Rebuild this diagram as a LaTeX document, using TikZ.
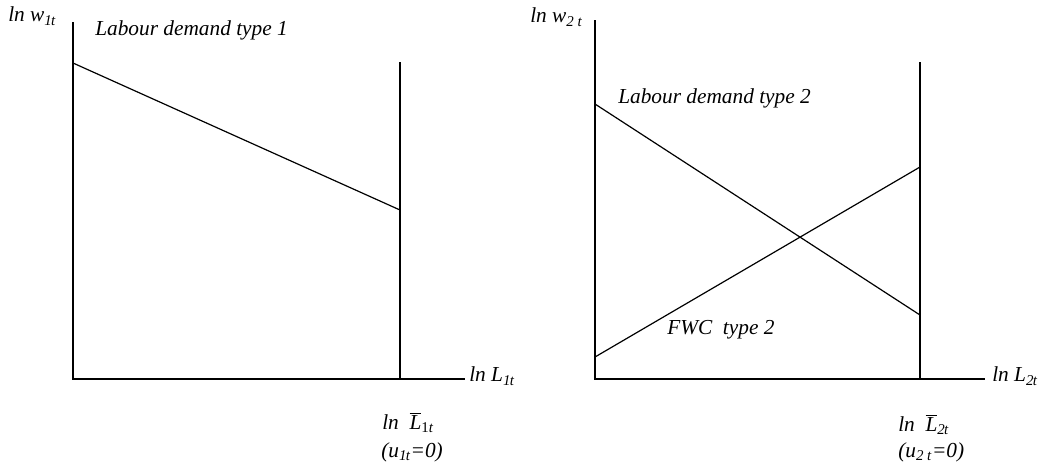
\documentclass[tikz,border=0pt]{standalone}
\usepackage{fontspec}
\setmainfont{Liberation Serif}
\begin{document}
\begin{tikzpicture}[
    x=0.75pt, y=-0.75pt,
    % Eixos e curvas
    eixo/.style={draw, line width=0.9pt},
    curva/.style={draw, line width=0.9pt},
    % Rótulos
    rot/.style={font=\fontsize{16}{19}\selectfont\itshape, inner sep=0pt, anchor=west},
    rotc/.style={font=\fontsize{16}{19}\selectfont\itshape, inner sep=0pt}
]
\useasboundingbox (0,0) rectangle (1050,469);

% ---- PAINEL 1 ----
\coordinate (o1)    at (73, 379);
\coordinate (y1top) at (73, 22);
\coordinate (x1end) at (465, 379);
\coordinate (lb1)   at (400, 379);
\coordinate (lb1t)  at (400, 62);
\coordinate (d1a)   at (73, 63);
\coordinate (d1b)   at (400, 210);

\draw[eixo] (y1top) -- (o1) -- (x1end);
\draw[eixo] (lb1) -- (lb1t);
\draw[curva] (d1a) -- (d1b);

\node[rot] (w1)   at (8, 16)   {ln w\textsubscript{1\kern-0.5pt t}};
\node[rot] (dem1) at (95, 30)  {Labour demand type 1};
\node[rot] (L1)   at (469, 376) {ln L\textsubscript{1\kern-0.5pt t}};
\node[rot] (Lb1)  at (382, 423) {ln\enspace$\overline{\mbox{\itshape L}}$\textsubscript{\upshape 1\itshape t}};
\node[rot] (u1)   at (381, 452) {(u\textsubscript{1\kern-0.5pt t}=0)};

% ---- PAINEL 2 ----
\coordinate (o2)    at (595, 379);
\coordinate (y2top) at (595, 20);
\coordinate (x2end) at (985, 379);
\coordinate (lb2)   at (920, 379);
\coordinate (lb2t)  at (920, 62);
\coordinate (d2a)   at (595, 104);
\coordinate (d2b)   at (920, 315);
\coordinate (f2a)   at (595, 357);
\coordinate (f2b)   at (920, 167);

\draw[eixo] (y2top) -- (o2) -- (x2end);
\draw[eixo] (lb2) -- (lb2t);
\draw[curva] (d2a) -- (d2b);
\draw[curva] (f2a) -- (f2b);

\node[rot] (w2)   at (530, 17)  {ln w\textsubscript{2 t}};
\node[rot] (dem2) at (618, 98)  {Labour demand type 2};
\node[rot] (fwc)  at (667, 330) {FWC\enspace type 2};
\node[rot] (L2)   at (992, 376) {ln L\textsubscript{2\kern-0.5pt t}};
\node[rot] (Lb2)  at (898, 425) {ln\enspace$\overline{\mbox{\itshape L}}$\textsubscript{2\kern-0.5pt t}};
\node[rot] (u2)   at (898, 452) {(u\textsubscript{2 t}=0)};

\end{tikzpicture}
\end{document}
